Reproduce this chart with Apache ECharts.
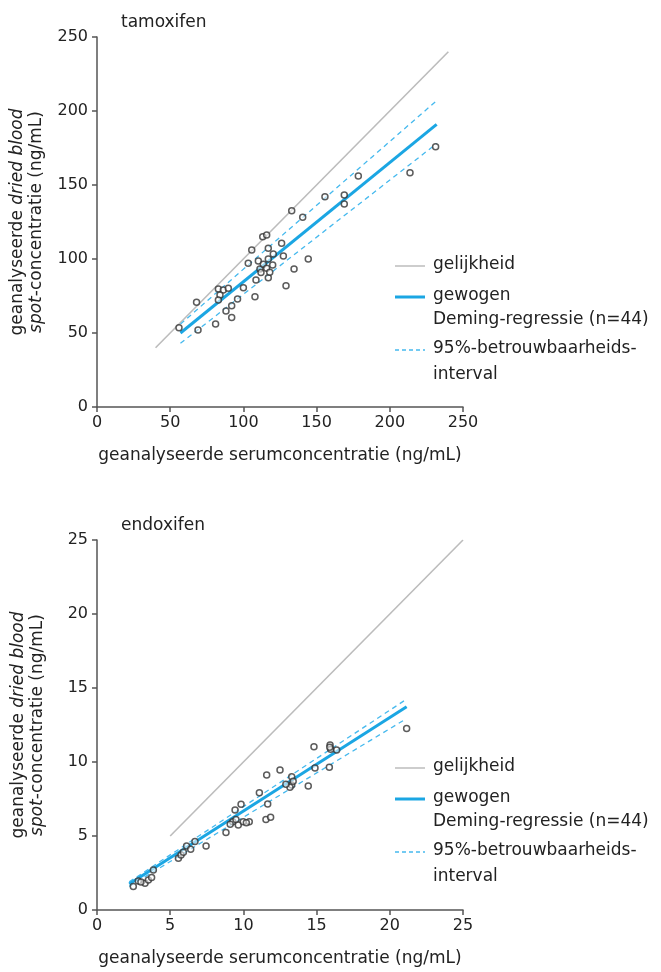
<!DOCTYPE html>
<html>
<head>
<meta charset="utf-8">
<script src="https://cdn.jsdelivr.net/npm/echarts@6/dist/echarts.min.js"></script>
<style>
  html, body { margin: 0; padding: 0; background: #fff; }
  #main { width: 661px; height: 972px; }
</style>
</head>
<body>
<div id="main"></div>
<script>
// tamoxifen: serum (x) vs dried blood spot (y), ng/mL
const tamoxifenPoints = [
  [56, 53.6], [69, 52], [68, 70.7], [81, 56], [82.9, 79.7], [86.3, 79], [89.7, 80.2],
  [84, 75.7], [82.9, 72.3], [92, 68.4], [88.1, 64.9], [92, 60.4], [100, 80.6], [103.3, 97.1],
  [105.7, 106.1], [107.9, 74.5], [108.6, 85.8], [110.2, 98.6], [111.3, 93.2], [112, 90.8],
  [113.2, 115.1], [115.9, 116.2], [113.6, 96.4], [115.9, 93.7], [117, 107.2], [117, 100],
  [117, 87.4], [120, 95.9], [120.4, 103.4], [126.1, 110.6], [127.3, 102], [129.1, 82],
  [134.6, 93.2], [144.3, 100], [133, 132.6], [140.5, 128.2], [155.7, 142.1], [168.9, 143.2],
  [168.9, 137.2], [178.5, 156], [213.8, 158.3], [231.3, 175.9], [96, 73], [118, 91]
];
const tamoxifenIdentity = [[40, 40], [240, 240]];
const tamoxifenFit = [[57, 50], [232, 191]];
const tamoxifenUpper = [[57, 56], [232, 207]];
const tamoxifenLower = [[57, 43], [232, 178]];

// endoxifen
const endoxifenPoints = [
  [2.48, 1.58], [2.82, 1.96], [3.28, 1.8], [3.51, 2.03], [3.73, 2.2], [3.85, 2.7],
  [5.56, 3.49], [5.74, 3.72], [6.12, 4.32], [6.69, 4.62], [7.45, 4.32], [8.81, 5.23],
  [9.27, 5.97], [9.49, 6.12], [9.65, 5.74], [9.99, 5.97], [10.4, 5.97], [9.43, 6.76],
  [9.84, 7.14], [11.09, 7.93], [11.66, 7.16], [11.54, 6.12], [11.86, 6.26], [11.59, 9.12],
  [12.5, 9.46], [13.3, 9.01], [13.3, 8.45], [13.18, 8.29], [14.43, 8.38], [14.89, 9.6],
  [14.82, 11.03], [15.92, 11.15], [15.96, 10.86], [16.37, 10.81], [15.87, 9.64], [21.15, 12.27],
  [10.2, 5.9], [9.1, 5.8], [13.4, 8.7], [3.0, 1.9], [5.9, 3.9], [12.9, 8.5], [15.9, 11.0], [6.4, 4.1]
];
const endoxifenIdentity = [[5, 5], [25, 25]];
const endoxifenFit = [[2.2, 1.75], [21.15, 13.74]];
const endoxifenUpper = [[2.2, 1.9], [21, 14.15]];
const endoxifenLower = [[2.2, 1.6], [21, 12.85]];

const tamoxifenMax = 250, tamoxifenStep = 50;
const endoxifenMax = 25, endoxifenStep = 5;

const font = 'DejaVu Sans';
const ink = '#222';
const axisColor = '#555';
const grey = '#bcbcbc';
const blue = '#1ba6e3';
const blueLight = '#45b9ee';
const fs = 17;

function xAxisFor(idx, max, step) {
  return {
    type: 'value', gridIndex: idx, min: 0, max: max, interval: step,
    name: 'geanalyseerde serumconcentratie (ng/mL)',
    nameLocation: 'middle', nameGap: 40,
    nameTextStyle: { color: ink, fontSize: fs, fontFamily: font },
    axisLine: { show: true, onZero: false, lineStyle: { color: axisColor, width: 1.5 } },
    axisTick: { show: true, length: 5, lineStyle: { color: axisColor, width: 1.5 } },
    axisLabel: { color: ink, fontSize: 16, fontFamily: font, margin: 8 },
    splitLine: { show: false }
  };
}
function yAxisFor(idx, max, step) {
  return {
    type: 'value', gridIndex: idx, min: 0, max: max, interval: step,
    name: '{n|geanalyseerde }{i|dried blood}\n{i|spot}{n|-concentratie (ng/mL)}',
    nameLocation: 'middle', nameGap: 50, nameRotate: 90,
    nameTextStyle: {
      color: ink, fontSize: fs, fontFamily: font, lineHeight: 19,
      rich: {
        n: { color: ink, fontSize: fs, fontFamily: font, lineHeight: 19 },
        i: { color: ink, fontSize: fs, fontFamily: font, fontStyle: 'italic', lineHeight: 19 }
      }
    },
    axisLine: { show: true, onZero: false, lineStyle: { color: axisColor, width: 1.5 } },
    axisTick: { show: true, length: 5, lineStyle: { color: axisColor, width: 1.5 } },
    axisLabel: { color: ink, fontSize: 16, fontFamily: font, margin: 9 },
    splitLine: { show: false }
  };
}
function lineSeries(idx, data, color, width, type, z) {
  return {
    type: 'line', xAxisIndex: idx, yAxisIndex: idx, data: data,
    showSymbol: false, symbol: 'none', silent: true, z: z,
    lineStyle: { color: color, width: width, type: type }
  };
}
function pointSeries(idx, data) {
  return {
    type: 'scatter', xAxisIndex: idx, yAxisIndex: idx, data: data, z: 10,
    symbol: 'circle', symbolSize: 6,
    itemStyle: { color: 'rgba(255,255,255,0.7)', borderColor: '#333', borderWidth: 1.5 }
  };
}
// legend drawn by hand, y of first row given
function legendFor(y0) {
  const txt = (x, y, s) => ({
    type: 'text', left: x, top: y - 10,
    style: { text: s, fill: ink, fontSize: fs, fontFamily: font }
  });
  const seg = (y, color, w, dash) => ({
    type: 'line', shape: { x1: 395, y1: y, x2: 425, y2: y },
    style: { stroke: color, lineWidth: w, lineDash: dash }
  });
  return [
    seg(y0, grey, 1.5, null), txt(433, y0, 'gelijkheid'),
    seg(y0 + 31, blue, 3, null), txt(433, y0 + 31, 'gewogen'),
    txt(433, y0 + 55, 'Deming-regressie (n=44)'),
    seg(y0 + 84, blueLight, 1.3, [4, 3]), txt(433, y0 + 84, '95%-betrouwbaarheids-'),
    txt(433, y0 + 110, 'interval')
  ];
}

const chart = echarts.init(document.getElementById('main'));
chart.setOption({
  animation: false,
  backgroundColor: '#fff',
  title: [
    { text: 'tamoxifen', left: 116, top: 9, textStyle: { color: ink, fontSize: fs, fontWeight: 'normal', fontFamily: font } },
    { text: 'endoxifen', left: 116, top: 512, textStyle: { color: ink, fontSize: fs, fontWeight: 'normal', fontFamily: font } }
  ],
  grid: [
    { left: 97, top: 37, width: 366, height: 370 },
    { left: 97, top: 540, width: 366, height: 370 }
  ],
  xAxis: [xAxisFor(0, tamoxifenMax, tamoxifenStep), xAxisFor(1, endoxifenMax, endoxifenStep)],
  yAxis: [yAxisFor(0, tamoxifenMax, tamoxifenStep), yAxisFor(1, endoxifenMax, endoxifenStep)],
  series: [
    lineSeries(0, tamoxifenIdentity, grey, 1.6, 'solid', 2),
    lineSeries(0, tamoxifenUpper, blueLight, 1.3, [5, 4], 3),
    lineSeries(0, tamoxifenLower, blueLight, 1.3, [5, 4], 3),
    lineSeries(0, tamoxifenFit, blue, 3, 'solid', 4),
    pointSeries(0, tamoxifenPoints),
    lineSeries(1, endoxifenIdentity, grey, 1.6, 'solid', 2),
    lineSeries(1, endoxifenUpper, blueLight, 1.3, [5, 4], 3),
    lineSeries(1, endoxifenLower, blueLight, 1.3, [5, 4], 3),
    lineSeries(1, endoxifenFit, blue, 3, 'solid', 4),
    pointSeries(1, endoxifenPoints)
  ],
  graphic: legendFor(266).concat(legendFor(768))
});
</script>
</body>
</html>
